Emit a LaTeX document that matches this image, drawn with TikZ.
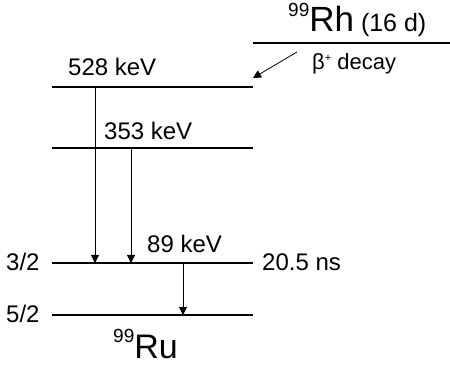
\documentclass[tikz,border=0pt]{standalone}
\usepackage{fontspec}
\setmainfont{Liberation Sans}
\usetikzlibrary{arrows.meta}
\tikzset{
  level/.style={line width=1.3pt},
  gam/.style={line width=0.8pt,-{Triangle[length=8pt,width=8pt]}},
  lab/.style={inner sep=0pt,font=\fontsize{24}{26}\selectfont},
}
\begin{document}
\begin{tikzpicture}[x=1pt,y=-1pt]
\useasboundingbox (0,0) rectangle (450,366);
% levels
\coordinate (a1) at (52,87);  \coordinate (a2) at (253,87);
\coordinate (b1) at (52,148); \coordinate (b2) at (253,148);
\coordinate (c1) at (52,263); \coordinate (c2) at (253,263);
\coordinate (d1) at (52,315); \coordinate (d2) at (253,315);
\coordinate (r1) at (253,43); \coordinate (r2) at (450,43);
\draw[level] (a1) -- (a2);
\draw[level] (b1) -- (b2);
\draw[level] (c1) -- (c2);
\draw[level] (d1) -- (d2);
\draw[level] (r1) -- (r2);
% labels
\node[lab,anchor=base west] (t528) at (68,76) {528 keV};
\node[lab,anchor=base west] (t353) at (104,140) {353 keV};
\node[lab,anchor=base west] (t89) at (147,253) {89 keV};
\node[lab,anchor=base west] (s32) at (6,271) {3/2};
\node[lab,anchor=base west] (s52) at (6,323) {5/2};
\node[lab,anchor=base west] (tns) at (262,271) {20.5 ns};
\node[inner sep=0pt,anchor=base west] (ru) at (113,358) {\fontsize{19}{20}\selectfont\raisebox{16pt}{99}\fontsize{34}{36}\selectfont Ru};
\node[inner sep=0pt,anchor=base west] (rh) at (288,32) {\fontsize{19}{20}\selectfont\raisebox{15pt}{99}\fontsize{35}{37}\selectfont Rh\fontsize{25}{27}\selectfont\ (16 d)};
\node[inner sep=0pt,anchor=base west,font=\fontsize{22}{24}\selectfont] (bd) at (312,70) {β\raisebox{8pt}{\fontsize{11}{12}\selectfont +} decay};
% transitions
\coordinate (g1s) at (95,87);  \coordinate (g1e) at (95,263);
\coordinate (g2s) at (131,148); \coordinate (g2e) at (131,263);
\coordinate (g3s) at (183,263); \coordinate (g3e) at (183,315);
\coordinate (bs) at (297,52); \coordinate (be) at (253,78);
\draw[gam] (g1s) -- (g1e);
\draw[gam] (g2s) -- (g2e);
\draw[gam] (g3s) -- (g3e);
\draw[gam] (bs) -- (be);
\end{tikzpicture}
\end{document}
